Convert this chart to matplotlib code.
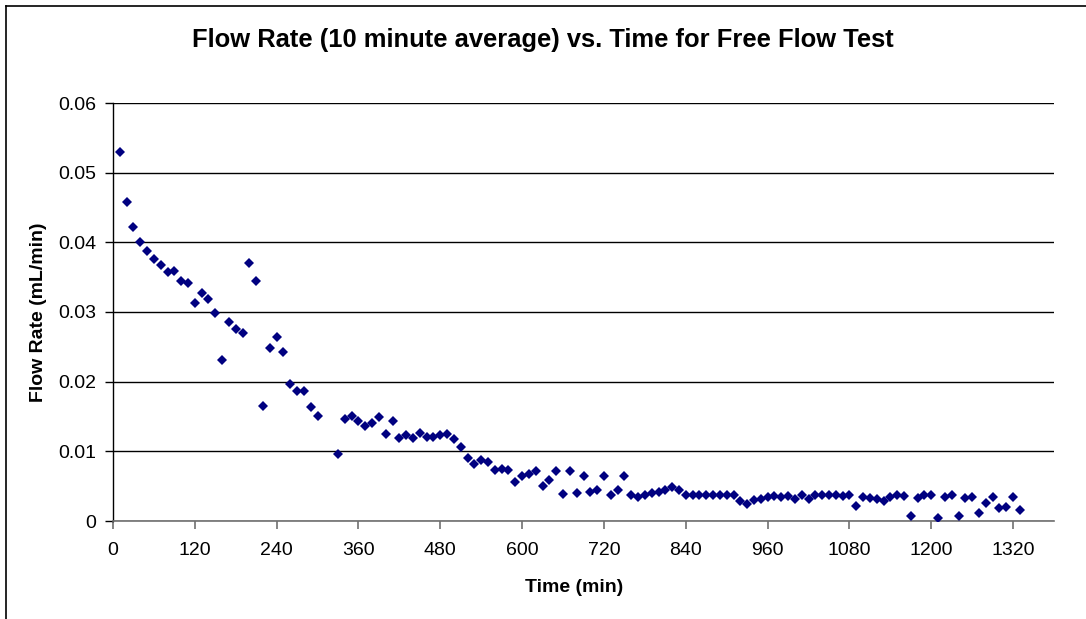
import matplotlib
matplotlib.use("Agg")
import matplotlib.pyplot as plt
from matplotlib.lines import Line2D

plt.rcParams['font.family'] = ['Liberation Sans', 'DejaVu Sans']

# ── Data ──────────────────────────────────────────────
time_min = [
    10, 20, 30, 40, 50, 60, 70, 80, 90, 100,
    110, 120, 130, 140, 150, 160, 170, 180, 190, 200,
    210, 220, 230, 240, 250, 260, 270, 280, 290, 300,
    330, 340, 350, 360, 370, 380, 390, 400, 410, 420,
    430, 440, 450, 460, 470, 480, 490, 500, 510, 520,
    530, 540, 550, 560, 570, 580, 590, 600, 610, 620,
    630, 640, 650, 660, 670, 680, 690, 700, 710, 720,
    730, 740, 750, 760, 770, 780, 790, 800, 810, 820,
    830, 840, 850, 860, 870, 880, 890, 900, 910, 920,
    930, 940, 950, 960, 970, 980, 990, 1000, 1010, 1020,
    1030, 1040, 1050, 1060, 1070, 1080, 1090, 1100, 1110, 1120,
    1130, 1140, 1150, 1160, 1170, 1180, 1190, 1200, 1210, 1220,
    1230, 1240, 1250, 1260, 1270, 1280, 1290, 1300, 1310, 1320,
    1330,
]
flow_rate = [
    0.0529, 0.0458, 0.0422, 0.0401, 0.0388, 0.0376, 0.0367, 0.0358, 0.0359, 0.0344,
    0.0342, 0.0313, 0.0327, 0.0318, 0.0299, 0.0231, 0.0285, 0.0275, 0.0270, 0.0370,
    0.0344, 0.0165, 0.0248, 0.0264, 0.0243, 0.0196, 0.0187, 0.0186, 0.0164, 0.0151,
    0.00965, 0.0146, 0.0151, 0.0143, 0.0136, 0.0140, 0.0149, 0.0125, 0.0144, 0.0119,
    0.0123, 0.0119, 0.0127, 0.0120, 0.0121, 0.0123, 0.0125, 0.0118, 0.0106, 0.0091,
    0.0082, 0.0088, 0.0085, 0.0073, 0.0074, 0.0073, 0.0056, 0.0065, 0.0068, 0.0072,
    0.0050, 0.0059, 0.0072, 0.0039, 0.0072, 0.0040, 0.0065, 0.0042, 0.0045, 0.0064,
    0.0037, 0.0044, 0.0064, 0.0038, 0.0035, 0.0038, 0.0040, 0.0042, 0.0045, 0.0049,
    0.0044, 0.0037, 0.0037, 0.0037, 0.0038, 0.0037, 0.0037, 0.0037, 0.0037, 0.0028,
    0.0025, 0.0030, 0.0031, 0.0035, 0.0036, 0.0035, 0.0036, 0.0031, 0.0038, 0.0031,
    0.0038, 0.0037, 0.0037, 0.0038, 0.0036, 0.0038, 0.0021, 0.0034, 0.0033, 0.0032,
    0.0029, 0.0035, 0.0038, 0.0036, 0.0007, 0.0033, 0.0038, 0.0038, 0.0004, 0.0035,
    0.0038, 0.0007, 0.0033, 0.0035, 0.0012, 0.0026, 0.0035, 0.0018, 0.0020, 0.0035,
    0.0016,
]

x_ticks = [0, 120, 240, 360, 480, 600, 720, 840, 960, 1080, 1200, 1320]
y_ticks = [0, 0.01, 0.02, 0.03, 0.04, 0.05, 0.06]
y_tick_labels = ["0", "0.01", "0.02", "0.03", "0.04", "0.05", "0.06"]

# ── Figure ────────────────────────────────────────────
W, H = 1086, 619
fig = plt.figure(figsize=(W / 100, H / 100), dpi=100)
ax = fig.add_axes([113 / W, 1 - 521 / H, (1054 - 113) / W, (521 - 103) / H])

ax.plot(time_min, flow_rate, linestyle='none', marker='D', markersize=4.6,
        color='#000080', markeredgewidth=0, zorder=3)

ax.set_xlim(0, 1380)
ax.set_ylim(0, 0.06)
ax.set_xticks(x_ticks)
ax.set_yticks(y_ticks)
ax.set_yticklabels(y_tick_labels)

ax.grid(axis='y', color='black', linewidth=1.0)
ax.set_axisbelow(True)

for side in ['top', 'right']:
    ax.spines[side].set_visible(False)
ax.spines['left'].set_color('black')
ax.spines['bottom'].set_color('#707070')
ax.spines['left'].set_linewidth(1.0)
ax.spines['bottom'].set_linewidth(1.2)

ax.tick_params(axis='x', direction='out', length=6, width=1.2, color='#707070',
               labelsize=14, pad=9)
ax.tick_params(axis='y', direction='out', length=6, width=1.0, color='black',
               labelsize=14, pad=6)

ax.set_xlabel("Time (min)", fontsize=14, fontweight='bold')
ax.set_ylabel("Flow Rate (mL/min)", fontsize=14, fontweight='bold')
ax.xaxis.set_label_coords(0.5 - 9 / 941, -0.139)
ax.yaxis.set_label_coords(-0.07, 0.5)

fig.text(0.5, 1 - 40 / H, "Flow Rate (10 minute average) vs. Time for Free Flow Test",
         ha='center', va='center', fontsize=18.4, fontweight='bold')

# chart-area border (cut off on the right and bottom in the reference)
fig.add_artist(Line2D([5.5 / W, 5.5 / W], [0, 1 - 5.5 / H], transform=fig.transFigure,
                      color='black', linewidth=1.2))
fig.add_artist(Line2D([5.5 / W, 1], [1 - 5.5 / H, 1 - 5.5 / H], transform=fig.transFigure,
                      color='black', linewidth=1.2))

fig.savefig("out.png", dpi=100)
